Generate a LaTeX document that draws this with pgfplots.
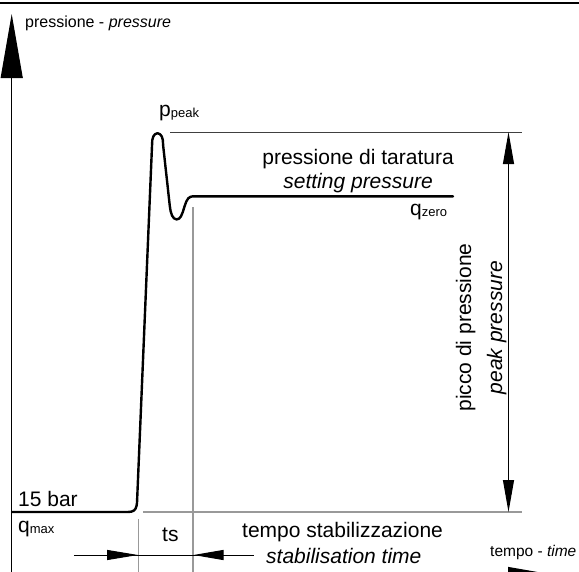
\documentclass[border=0pt]{standalone}
\usepackage{fontspec}
\setmainfont{Liberation Sans}
\usepackage{pgfplots}
\pgfplotsset{compat=1.18}
\usetikzlibrary{arrows.meta}
\definecolor{lgray}{HTML}{999999}
\definecolor{dgray}{HTML}{404040}
\newcommand{\fs}[1]{\fontsize{#1}{#1}\selectfont}
\begin{document}
\begin{tikzpicture}
\useasboundingbox (0,0) rectangle (579pt,571pt);
\clip (0,0) rectangle (579pt,571pt);
\begin{axis}[at={(0,0)}, anchor=south west, scale only axis,
  width=579pt, height=571pt, xmin=0, xmax=579, ymin=0, ymax=571,
  y dir=reverse, hide axis, clip=false]
% top border
\addplot[black, line width=1.5pt] coordinates {(-5,3) (585,3)};
% y axis
\addplot[black, line width=1pt, -{Triangle[length=64pt,width=22pt]}] coordinates {(11.7,580) (11.7,14)};
% x axis (mostly outside)
\addplot[black, line width=1pt, -{Triangle[length=64pt,width=22pt]}] coordinates {(11.7,578) (572,578)};
% pressure curve
\addplot[black, line width=2.4pt, line join=round, line cap=round] coordinates {
(12,512) (128,512) (131.5,511.6) (134,510.5) (135.6,508.5) (136.5,506) (137,503)
(152,146) (152.3,140) (153.3,136.5) (155,134.2) (157.5,133.2) (160,134.2) (161.8,136.5) (162.8,140) (163.2,146)
(169.8,206) (170.6,211) (172,215.5) (174,218.3) (176.5,219.4) (179,218.7) (181,216.3) (182.8,212) (184.5,206.5) (186.3,201.5) (188.3,198.3) (190.5,196.8) (193,196.3) (453,196.3)};
% reference lines
\addplot[dgray, line width=1pt] coordinates {(170,132) (522,132)};
\addplot[lgray, line width=1.3pt] coordinates {(143,512) (522,512)};
\addplot[lgray, line width=1.2pt] coordinates {(138.3,519) (138.3,575)};
\addplot[lgray, line width=1.2pt] coordinates {(193,207) (193,575)};
% peak pressure double arrow
\addplot[black, line width=1pt, {Triangle[length=32pt,width=11pt]}-{Triangle[length=32pt,width=11pt]}] coordinates {(508.5,132) (508.5,512)};
% ts arrows
\addplot[black, line width=1pt] coordinates {(74,555) (254,555)};
\addplot[black, line width=1pt, -{Triangle[length=31pt,width=10pt]}] coordinates {(100,555) (138,555)};
\addplot[black, line width=1pt, -{Triangle[length=30pt,width=10pt]}] coordinates {(240,555) (193.5,555)};
% texts
\node[anchor=base west, inner sep=0pt] at (axis cs:25,27) {\fs{16}pressione - \textit{pressure}};
\node[anchor=base west, inner sep=0pt] at (axis cs:159,116) {\fs{21}p\raisebox{-1pt}{\fs{13}peak}};
\node[anchor=base west, inner sep=0pt] at (axis cs:410,215) {\fs{21}q\raisebox{-1pt}{\fs{13}zero}};
\node[anchor=base west, inner sep=0pt] at (axis cs:18,532) {\fs{21}q\raisebox{-1pt}{\fs{13}max}};
\node[anchor=base west, inner sep=0pt] at (axis cs:18,506) {\fs{21}15 bar};
\node[anchor=base west, inner sep=0pt] at (axis cs:162,541) {\fs{21}ts};
\node[anchor=base east, inner sep=0pt] at (axis cs:454,164) {\fs{21}pressione di taratura};
\node[anchor=base east, inner sep=0pt] at (axis cs:433,188) {\fs{21}\textit{setting pressure}};
\node[anchor=base west, inner sep=0pt] at (axis cs:242,537) {\fs{21}tempo stabilizzazione};
\node[anchor=base west, inner sep=0pt] at (axis cs:266,563) {\fs{21}\textit{stabilisation time}};
\node[anchor=base west, inner sep=0pt] at (axis cs:490,556) {\fs{15.5}tempo - \textit{time}};
\node[anchor=base, rotate=90, inner sep=0pt] at (axis cs:471,327.5) {\fs{21}picco di pressione};
\node[anchor=base, rotate=90, inner sep=0pt] at (axis cs:502,327.5) {\fs{21}\textit{peak pressure}};
\end{axis}
\end{tikzpicture}
\end{document}
